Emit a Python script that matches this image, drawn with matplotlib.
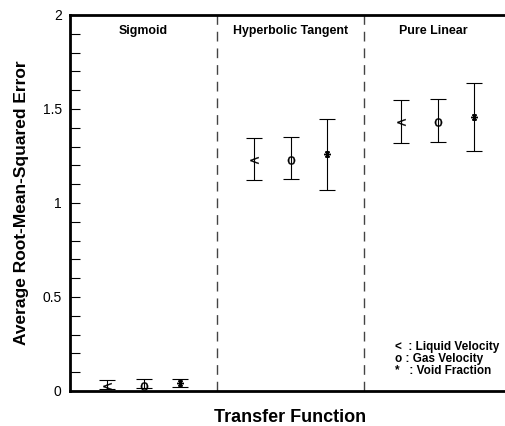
import numpy as np
import matplotlib
matplotlib.use('Agg')
import matplotlib.pyplot as plt

plt.rcParams['font.family'] = ['Liberation Sans', 'DejaVu Sans']

# data
groups = ['Sigmoid', 'Hyperbolic Tangent', 'Pure Linear']
series = ['Liquid Velocity', 'Gas Velocity', 'Void Fraction']
mean = np.array([[0.028, 0.028, 0.040],
                 [1.229, 1.229, 1.259],
                 [1.429, 1.431, 1.456]])
upper = np.array([[0.058, 0.062, 0.066],
                  [1.348, 1.353, 1.447],
                  [1.550, 1.551, 1.637]])
lower = np.array([[0.011, 0.014, 0.020],
                  [1.122, 1.126, 1.067],
                  [1.319, 1.326, 1.277]])
yticks = [0, 0.5, 1, 1.5, 2]
yticklabels = ['0', '0.5', '1', '1.5', '2']

# marker style per series
mk = [dict(marker='$<$', markersize=6, markeredgewidth=0.2),
      dict(marker='$\\mathrm{o}$', markersize=6, markeredgewidth=0.2),
      dict(marker=(6, 2, 90), markersize=5, markeredgewidth=1.0)]

fig = plt.figure(figsize=(5.05, 4.26), dpi=100)
ax = fig.add_axes([70/505, 35/426, 441/505, 376/426])

for g in range(len(groups)):
    for s in range(len(series)):
        xpos = g + 0.25 * (s + 1)
        ax.errorbar([xpos], [mean[g, s]],
                    yerr=[[mean[g, s] - lower[g, s]], [upper[g, s] - mean[g, s]]],
                    fmt='none', ecolor='black', elinewidth=0.8, capsize=6, capthick=0.8)
        ax.plot([xpos], [mean[g, s]], linestyle='none', color='black', **mk[s])

# dividers between groups
for xd in [1, 2]:
    ax.axvline(xd, color='#444444', linestyle=(0, (7, 5)), linewidth=1)

lab_x = [0.5, 1.5, 2.47]
for g in range(len(groups)):
    ax.text(lab_x[g], 1.915, groups[g], ha='center', va='center',
            fontsize=8.9, fontweight='bold')

legend_lines = ['<  : Liquid Velocity', 'o : Gas Velocity', '*   : Void Fraction']
for i, t in enumerate(legend_lines):
    ax.text(2.21, 0.234 - i * 0.064, t, ha='left', va='center',
            fontsize=8.5, fontweight='bold')

ax.set_xlim(0, 3)
ax.set_ylim(0, 2)
ax.set_xticks([])
ax.set_yticks(yticks)
ax.set_yticklabels(yticklabels, fontsize=10)
ax.set_yticks(np.arange(0, 2.01, 0.1), minor=True)
ax.tick_params(axis='y', which='both', direction='in', length=7, width=0.8, pad=6)
ax.tick_params(axis='y', which='minor', length=7)

ax.spines['right'].set_visible(False)
for sp in ['left', 'bottom', 'top']:
    ax.spines[sp].set_linewidth(2)

ax.set_ylabel('Average Root-Mean-Squared Error', fontsize=12.5, fontweight='bold', labelpad=10)
ax.set_xlabel('Transfer Function', fontsize=13, fontweight='bold', labelpad=13)

fig.savefig('out.png', dpi=100)
